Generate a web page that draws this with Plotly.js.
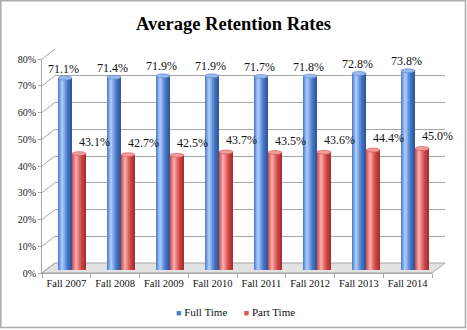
<!DOCTYPE html>
<html><head><meta charset="utf-8">
<script src="https://cdn.plot.ly/plotly-3.0.1.min.js"></script>
<style>html,body{margin:0;padding:0;background:#fff}#chart{width:467px;height:330px}</style>
</head><body><div id="chart"></div>
<script>
const categories = ['Fall 2007','Fall 2008','Fall 2009','Fall 2010','Fall 2011','Fall 2012','Fall 2013','Fall 2014'];
const fullTime = [71.1, 71.4, 71.9, 71.9, 71.7, 71.8, 72.8, 73.8];
const partTime = [43.1, 42.7, 42.5, 43.7, 43.5, 43.6, 44.4, 45.0];
const seriesNames = ['Full Time', 'Part Time'];
const yTicks = [0,10,20,30,40,50,60,70,80];
const chartTitle = 'Average Retention Rates';

const W = 467, H = 330;
const px = x => x / W;
const py = y => 1 - y / H;
const FONT = 'Liberation Serif';

// cylinder shading layers: [from, to, blue, red]
const layers = [
  [0.00, 1.00, '#4677c6', '#cf4646'],
  [0.04, 0.62, '#6591da', '#df6464'],
  [0.12, 0.50, '#82a9e8', '#ea7f7f'],
  [0.20, 0.40, '#9dbef2', '#f39c9c'],
  [0.26, 0.34, '#b1cdf7', '#f7b1b1'],
  [0.74, 1.00, '#3c68b2', '#be3b3b'],
  [0.88, 1.00, '#30579a', '#a53131']
];
const BW = 14 / 49;
const series = [fullTime, partTime];
const traces = [];

traces.push({type:'scatter', x:categories, y:fullTime, xaxis:'x', yaxis:'y', mode:'markers',
  marker:{opacity:0}, hoverinfo:'skip', showlegend:false});
traces.push({type:'scatter', x:categories, y:fullTime, xaxis:'x2', yaxis:'y2', mode:'markers',
  marker:{opacity:0}, hoverinfo:'skip', showlegend:false});

series.forEach((vals, s) => {
  const base = s === 0 ? -BW : 0;
  layers.forEach(L => {
    traces.push({
      type:'bar', x:categories, y:vals, xaxis:'x3', yaxis:'y3',
      offset: base + L[0]*BW, width: (L[1]-L[0])*BW,
      marker:{color: s === 0 ? L[2] : L[3], line:{width:0}},
      hoverinfo:'skip', showlegend:false
    });
  });
});

const shapes = [];
shapes.push({type:'path', xref:'paper', yref:'paper', layer:'below',
  path:`M${px(42)},${py(273)} L${px(432)},${py(273)} L${px(445)},${py(263)} L${px(55)},${py(263)} Z`,
  fillcolor:'#e2e2e2', line:{color:'#a6a6a6', width:1}});
const front = v => 273 - v * (214/80);
const back = v => 263 - v * (214/80);
yTicks.forEach(v => {
  shapes.push({type:'line', xref:'paper', yref:'paper', layer:'below',
    x0:px(42), y0:py(front(v)), x1:px(55), y1:py(back(v)),
    line:{color:'#a6a6a6', width:1}});
});
const capH = 2.0 / 2.7;
series.forEach((vals, s) => {
  const base = s === 0 ? -BW : 0;
  vals.forEach((v, i) => {
    shapes.push({type:'circle', xref:'x3', yref:'y3', layer:'above',
      x0: i + base, x1: i + base + BW, y0: v - capH, y1: v + capH,
      fillcolor: s === 0 ? '#98b9ee' : '#f29b9b',
      line:{color: s === 0 ? '#5583c8' : '#c95050', width:0.6}});
  });
});
shapes.push({type:'rect', xref:'paper', yref:'paper', layer:'above',
  x0:px(0.8), x1:px(465.5), y0:py(327.5), y1:py(0.8),
  line:{color:'#adadad', width:1.6}});

const annotations = [];
series.forEach((vals, s) => {
  vals.forEach((v, i) => {
    annotations.push({xref:'x3', yref:'y3', x:categories[i], y:v,
      text: v.toFixed(1) + '%', showarrow:false,
      xanchor:'center', yanchor:'middle',
      xshift: s === 0 ? -9 : 22, yshift: s === 0 ? 9.5 : 12,
      font:{family:FONT, size:12, color:'#111'}});
  });
});
const legendColors = ['#4f81d0', '#e05555'];
annotations.push({xref:'paper', yref:'paper', x:px(235.5), y:py(312),
  xanchor:'center', yanchor:'middle', showarrow:false,
  text: seriesNames.map((n, k) => `<span style="color:${legendColors[k]};font-size:9px">\u25A0</span>\u00a0${n}`).join('\u00a0\u00a0\u00a0\u00a0\u00a0\u00a0'),
  font:{family:FONT, size:11, color:'#111'}});

const layout = {
  width:W, height:H, margin:{l:0, r:0, t:0, b:0},
  paper_bgcolor:'#fff', plot_bgcolor:'rgba(0,0,0,0)',
  font:{family:FONT},
  showlegend:false, barmode:'overlay',
  title:{text:'<b>' + chartTitle + '</b>', x:0.5, xanchor:'center', y:py(24), yanchor:'middle',
    font:{family:FONT, size:18.5, color:'#000'}},
  xaxis:{domain:[px(42), px(432)], anchor:'y', type:'category', categoryorder:'array', categoryarray:categories,
    range:[-0.5, 7.5], showgrid:false, zeroline:false, showline:true, linecolor:'#a6a6a6', linewidth:1,
    ticks:'outside', tickson:'boundaries', ticklen:4, tickcolor:'#a6a6a6', tickangle:0,
    tickfont:{family:FONT, size:10.5, color:'#111'}, fixedrange:true},
  yaxis:{domain:[py(273), py(59)], anchor:'x', range:[0, 80], tickvals:yTicks, ticktext:yTicks.map(v => v + '%'),
    showgrid:false, zeroline:false, showline:true, linecolor:'#a6a6a6', linewidth:1,
    ticks:'outside', ticklen:3, tickcolor:'#a6a6a6',
    tickfont:{family:FONT, size:10, color:'#222'}, fixedrange:true},
  xaxis2:{domain:[px(55), px(445)], anchor:'y2', type:'category', range:[-0.5, 7.5],
    showgrid:false, zeroline:false, showline:false, showticklabels:false, ticks:''},
  yaxis2:{domain:[py(263), py(49)], anchor:'x2', range:[0, 80], tickvals:yTicks,
    showgrid:true, gridcolor:'#a6a6a6', gridwidth:1, zeroline:false, showline:false, showticklabels:false, ticks:''},
  xaxis3:{domain:[px(47.5), px(439.5)], anchor:'y3', type:'category', range:[-0.5, 7.5],
    showgrid:false, zeroline:false, showline:false, showticklabels:false, ticks:''},
  yaxis3:{domain:[py(270), py(54)], anchor:'x3', range:[0, 80],
    showgrid:false, zeroline:false, showline:false, showticklabels:false, ticks:''},
  shapes:shapes, annotations:annotations
};

Plotly.newPlot('chart', traces, layout, {displayModeBar:false, staticPlot:true});
</script></body></html>
